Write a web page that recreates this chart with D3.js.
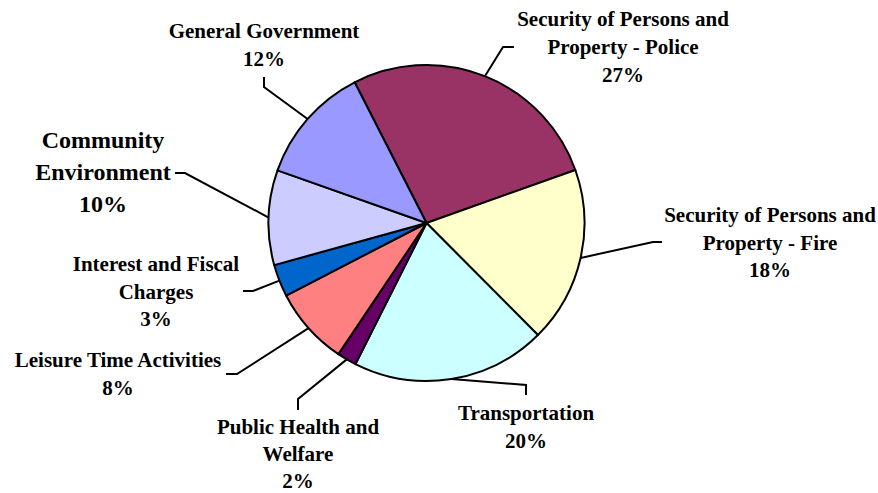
<!DOCTYPE html>
<html>
<head>
<meta charset="utf-8">
<script src="https://cdn.jsdelivr.net/npm/d3@7"></script>
<style>
  html, body { margin: 0; padding: 0; background: #ffffff; }
  svg { display: block; }
  text { font-family: "Liberation Serif", "Times New Roman", serif; font-weight: bold; fill: #000; }
</style>
</head>
<body>
<svg id="chart" width="878" height="493"></svg>
<script>
// ---- data ----
const categories = [
  "Security of Persons and Property - Police",
  "Security of Persons and Property - Fire",
  "Transportation",
  "Public Health and Welfare",
  "Leisure Time Activities",
  "Interest and Fiscal Charges",
  "Community Environment",
  "General Government"
];
const values = [27.1, 18.0, 19.9, 2.0, 8.0, 3.3, 9.7, 12.1];
const labelLines = [
  ["Security of Persons and", "Property - Police"],
  ["Security of Persons and", "Property - Fire"],
  ["Transportation"],
  ["Public Health and", "Welfare"],
  ["Leisure Time Activities"],
  ["Interest and Fiscal", "Charges"],
  ["Community", "Environment"],
  ["General Government"]
];
const colors = ["#993366", "#FFFFCC", "#CCFFFF", "#660066", "#FF8080", "#0066CC", "#CCCCFF", "#9999FF"];

// ---- layout (positions of labels / leader elbows) ----
const cx = 426.5, cy = 223, radius = 158;
const startDeg = -27.05;
const labelLayout = [
  { x: 623, y: 26, lh: 28, fs: 21, elbow: [503, 47], end: [514, 47] },
  { x: 770, y: 222, lh: 27.5, fs: 21, elbow: [653, 242], end: [662, 242] },
  { x: 526, y: 420, lh: 27.5, fs: 21, elbow: [526, 385], end: [526, 395] },
  { x: 298, y: 434, lh: 27, fs: 21, elbow: [298, 399], end: [298, 410] },
  { x: 118, y: 367, lh: 28, fs: 21, elbow: [237, 374], end: [226, 374] },
  { x: 156, y: 271, lh: 27.5, fs: 21, elbow: [253, 291], end: [243, 291] },
  { x: 103, y: 148, lh: 32, fs: 24, elbow: [185, 173], end: [175, 173] },
  { x: 264, y: 38, lh: 28, fs: 21, elbow: [264, 87], end: [264, 77] }
];

const svg = d3.select("#chart");
const total = d3.sum(values);
const data = categories.map((c, i) => ({ name: c, value: values[i], i }));

const pie = d3.pie()
  .sort(null)
  .value(d => d.value)
  .startAngle(startDeg * Math.PI / 180)
  .endAngle(startDeg * Math.PI / 180 + 2 * Math.PI);

const arc = d3.arc().innerRadius(0).outerRadius(radius);
const arcs = pie(data);

const g = svg.append("g").attr("transform", `translate(${cx},${cy})`);

g.selectAll("path.slice")
  .data(arcs)
  .join("path")
  .attr("class", "slice")
  .attr("d", arc)
  .attr("fill", d => colors[d.data.i])
  .attr("stroke", "#000")
  .attr("stroke-width", 2)
  .attr("stroke-linejoin", "round");

// leader lines
const line = d3.line();
arcs.forEach(a => {
  const L = labelLayout[a.data.i];
  const mid = (a.startAngle + a.endAngle) / 2;
  const p0 = [cx + radius * Math.sin(mid), cy - radius * Math.cos(mid)];
  svg.append("path")
    .attr("d", line([p0, L.elbow, L.end]))
    .attr("fill", "none")
    .attr("stroke", "#000")
    .attr("stroke-width", 2);
});

// labels
arcs.forEach(a => {
  const i = a.data.i;
  const L = labelLayout[i];
  const pct = Math.round(a.data.value / total * 100) + "%";
  const lines = labelLines[i].concat([pct]);
  const t = svg.append("text")
    .attr("text-anchor", "middle")
    .attr("font-size", L.fs);
  lines.forEach((s, k) => {
    t.append("tspan").attr("x", L.x).attr("y", L.y + k * L.lh).text(s);
  });
});
</script>
</body>
</html>
